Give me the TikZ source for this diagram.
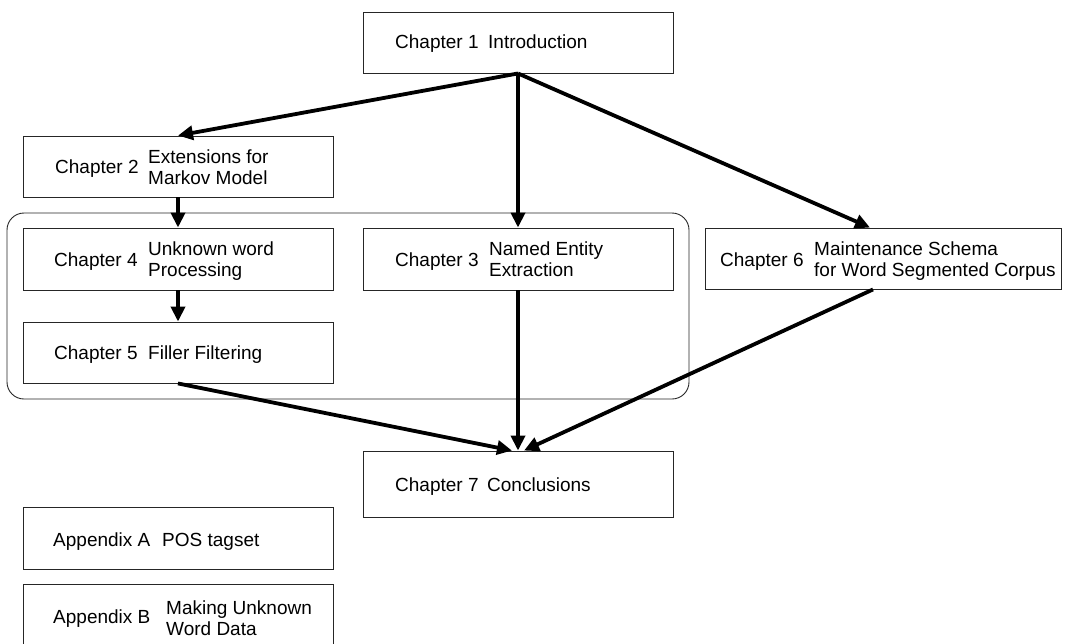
\documentclass[tikz,border=0pt]{standalone}
\usepackage{fontspec}
\setmainfont{Liberation Sans}
\usetikzlibrary{arrows.meta}
\begin{document}
\begin{tikzpicture}[x=1pt,y=-1pt,
  box/.style={draw=black!85,line width=0.9pt,rectangle,inner sep=0pt},
  lbl/.style={anchor=base west,inner sep=0pt,font=\fontsize{19pt}{21pt}\selectfont},
  arr/.style={line width=3.8pt,-{Triangle[length=15pt,width=14pt]}},
  group/.style={draw=black!85,line width=0.9pt,rounded corners=17pt}
]
\useasboundingbox (0,0) rectangle (1065,643);
% group frame
\draw[group] (7,213) rectangle (689,399);
% boxes
\node[box,minimum width=310pt,minimum height=61pt] (ch1) at (518,42.5) {};
\node[box,minimum width=310pt,minimum height=61pt] (ch2) at (178,166.5) {};
\node[box,minimum width=310pt,minimum height=62pt] (ch4) at (178,259) {};
\node[box,minimum width=310pt,minimum height=62pt] (ch3) at (518,259) {};
\node[box,minimum width=310pt,minimum height=61pt] (ch5) at (178,352.5) {};
\node[box,minimum width=356pt,minimum height=61pt] (ch6) at (883,258.5) {};
\node[box,minimum width=310pt,minimum height=66pt] (ch7) at (518,484) {};
\node[box,minimum width=310pt,minimum height=62pt] (appA) at (178,538) {};
\node[box,minimum width=310pt,minimum height=76pt] (appB) at (178,622) {};
% labels
\node[lbl] (t1a) at (395,48.5) {Chapter 1};
\node[lbl] (t1b) at (488,48.5) {Introduction};
\node[lbl] (t2a) at (55,173.5) {Chapter 2};
\node[lbl] (t2b) at (148,163.5) {\begin{tabular}[t]{@{}l@{}}Extensions for\\Markov Model\end{tabular}};
\node[lbl] (t4a) at (54,266.5) {Chapter 4};
\node[lbl] (t4b) at (148,255.5) {\begin{tabular}[t]{@{}l@{}}Unknown word\\Processing\end{tabular}};
\node[lbl] (t3a) at (395,266.5) {Chapter 3};
\node[lbl] (t3b) at (489,255.5) {\begin{tabular}[t]{@{}l@{}}Named Entity\\Extraction\end{tabular}};
\node[lbl] (t5a) at (54,359.5) {Chapter 5};
\node[lbl] (t5b) at (148,359.5) {Filler Filtering};
\node[lbl] (t6a) at (720,266.5) {Chapter 6};
\node[lbl] (t6b) at (814,255.5) {\begin{tabular}[t]{@{}l@{}}Maintenance Schema\\for Word Segmented Corpus\end{tabular}};
\node[lbl] (t7a) at (395,491.5) {Chapter 7};
\node[lbl] (t7b) at (487,491.5) {Conclusions};
\node[lbl] (tAa) at (53,546.5) {Appendix A};
\node[lbl] (tAb) at (162,546.5) {POS tagset};
\node[lbl] (tBa) at (53,623.5) {Appendix B};
\node[lbl] (tBb) at (166,614.5) {\begin{tabular}[t]{@{}l@{}}Making Unknown\\Word Data\end{tabular}};
% arrows
\draw[arr] (ch1.south) -- (ch2.north);
\draw[arr] (ch1.south) -- (ch3.north);
\draw[arr] (ch1.south) -- ([xshift=-13pt]ch6.north);
\draw[arr] (ch2.south) -- (ch4.north);
\draw[arr] (ch4.south) -- (ch5.north);
\draw[arr] (ch5.south) -- ([xshift=-6pt]ch7.north);
\draw[arr] (ch3.south) -- (ch7.north);
\draw[arr] ([xshift=-10pt]ch6.south) -- ([xshift=6pt]ch7.north);
\end{tikzpicture}
\end{document}
